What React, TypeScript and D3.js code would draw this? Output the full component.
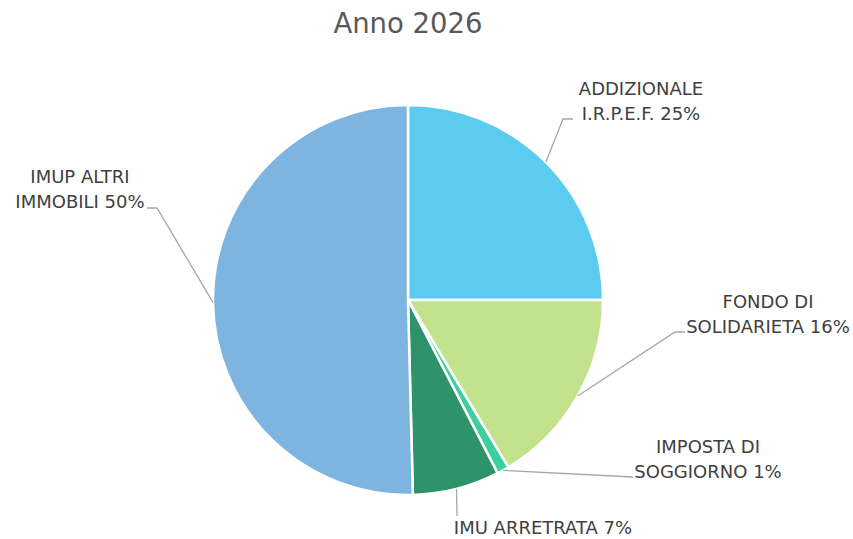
import React, { useEffect, useRef } from 'react';
import * as d3 from 'd3';

const categories = ['ADDIZIONALE I.R.P.E.F.', 'FONDO DI SOLIDARIETA', 'IMPOSTA DI SOGGIORNO', 'IMU ARRETRATA', 'IMUP ALTRI IMMOBILI'];
const values = [25.0, 16.4, 1.0, 7.2, 50.4];
const labelLines = [
  ['ADDIZIONALE', 'I.R.P.E.F.'],
  ['FONDO DI', 'SOLIDARIETA'],
  ['IMPOSTA DI', 'SOGGIORNO'],
  ['IMU ARRETRATA'],
  ['IMUP ALTRI', 'IMMOBILI'],
];
const colors = ['#5BCBF0', '#C2E38C', '#3ECF9E', '#2E936A', '#7EB4E0'];
const title = 'Anno 2026';

// label placement: text centre x, first baseline, and leader bend points
const labelLayout = [
  { tx: 641, ty: 95, pts: [[563, 119], [573, 119]] },
  { tx: 768, ty: 308, pts: [[675, 332], [685, 332]] },
  { tx: 708, ty: 453, pts: [[633, 477]] },
  { tx: 543, ty: 534, pts: [[457, 516]] },
  { tx: 80, ty: 183, pts: [[157, 208], [147, 208]] },
];

const App = () => {
  const svgRef = useRef<SVGSVGElement>(null);

  useEffect(() => {
    const width = 853;
    const height = 539;
    const cx = 408;
    const cy = 300;
    const radius = 195;

    const svg = d3.select(svgRef.current).attr('width', width).attr('height', height);
    svg.selectAll('*').remove();

    const total = d3.sum(values);
    const pie = d3.pie<number>().sort(null).value(d => d);
    const arcs = pie(values);
    const arc = d3.arc<d3.PieArcDatum<number>>().innerRadius(0).outerRadius(radius);

    const g = svg.append('g').attr('transform', `translate(${cx},${cy})`);

    g.selectAll('path.slice')
      .data(arcs)
      .enter()
      .append('path')
      .attr('class', 'slice')
      .attr('d', arc)
      .attr('fill', (d, i) => colors[i])
      .attr('stroke', '#fff')
      .attr('stroke-width', 2.5);

    // leader lines
    arcs.forEach((d, i) => {
      const mid = (d.startAngle + d.endAngle) / 2;
      const start: [number, number] = [cx + radius * Math.sin(mid), cy - radius * Math.cos(mid)];
      const pts = [start, ...labelLayout[i].pts];
      svg.append('path')
        .attr('d', d3.line()(pts as [number, number][]))
        .attr('fill', 'none')
        .attr('stroke', '#A6A6A6')
        .attr('stroke-width', 1.3);
    });

    // labels
    arcs.forEach((d, i) => {
      const pct = Math.round((d.data / total) * 100) + '%';
      const lines = labelLines[i].slice();
      lines[lines.length - 1] = lines[lines.length - 1] + ' ' + pct;
      const t = svg.append('text')
        .attr('text-anchor', 'middle')
        .attr('font-family', 'DejaVu Sans, sans-serif')
        .attr('font-size', 18)
        .attr('fill', '#404040');
      lines.forEach((ln, j) => {
        t.append('tspan')
          .attr('x', labelLayout[i].tx)
          .attr('y', labelLayout[i].ty + j * 24.5)
          .text(ln);
      });
    });

    svg.append('text')
      .attr('x', cx)
      .attr('y', 33)
      .attr('text-anchor', 'middle')
      .attr('font-family', 'DejaVu Sans, sans-serif')
      .attr('font-size', 27.5)
      .attr('fill', '#595959')
      .text(title);
  }, []);

  return (
    <div style={{ position: 'absolute', left: 0, top: 0 }}>
      <svg ref={svgRef}></svg>
    </div>
  );
};

export default App;
